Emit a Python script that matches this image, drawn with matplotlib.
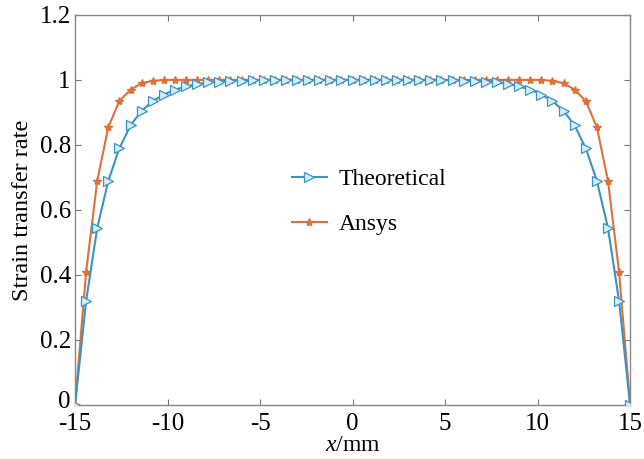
import matplotlib
matplotlib.use("Agg")
import matplotlib.pyplot as plt
import matplotlib.transforms as mtransforms
import numpy as np

plt.rcParams['font.family'] = ['Liberation Serif', 'DejaVu Serif']
plt.rcParams['axes.unicode_minus'] = False
plt.rcParams['mathtext.fontset'] = 'custom'
plt.rcParams['mathtext.it'] = 'Liberation Serif:italic'
plt.rcParams['mathtext.rm'] = 'Liberation Serif'

# x positions, mm (step 0.6)
x = np.round(np.arange(-15, 15.001, 0.6), 2)

# left half (x = -15 ... 0), mirrored for the right half
theo_half = [0.0, 0.32, 0.545, 0.69, 0.79, 0.86, 0.905, 0.935, 0.955, 0.97,
             0.98, 0.987, 0.992, 0.995, 0.997, 0.998, 0.999, 1.0, 1.0, 1.0,
             1.0, 1.0, 1.0, 1.0, 1.0, 1.0]
ansys_half = [0.0, 0.41, 0.69, 0.855, 0.935, 0.97, 0.99, 0.997, 1.0, 1.0,
              1.0, 1.0, 1.0, 1.0, 1.0, 1.0, 1.0, 1.0, 1.0, 1.0,
              1.0, 1.0, 1.0, 1.0, 1.0, 1.0]
theoretical = theo_half + theo_half[-2::-1]
ansys = ansys_half + ansys_half[-2::-1]

blue = '#3a93c3'
orange = '#e0703a'

fig = plt.figure(figsize=(6.44, 4.59), dpi=100)
ax = fig.add_axes([0.1165, 0.1176, 0.862, 0.85])

ax.plot(x, ansys, color=orange, lw=1.5, marker='*', ms=6,
        mfc=orange, mec=orange, label='Ansys', zorder=2)
ax.plot(x, theoretical, color=blue, lw=1.5, marker='>', ms=6.5,
        mfc='#d6ecf6', mec=blue, mew=0.9, label='Theoretical', zorder=3)

ax.set_xlim(-15, 15)
ax.set_ylim(0, 1.2)
ax.set_xticks([-15, -10, -5, 0, 5, 10, 15])
ax.set_yticks([0, 0.2, 0.4, 0.6, 0.8, 1, 1.2])
ax.set_yticklabels(['0', '0.2', '0.4', '0.6', '0.8', '1', '1.2'])
ax.tick_params(direction='in', top=True, right=True, length=4, width=0.8,
               labelsize=18, color='#777777', pad=6)
ax.tick_params(axis='y', pad=3)
for s in ax.spines.values():
    s.set_color('#888888')
    s.set_linewidth(1.0)

# nudge the "0" on y up a little so it doesn't sit on "-15"
lbl0 = ax.get_yticklabels()[0]
lbl0.set_transform(lbl0.get_transform() +
                   mtransforms.ScaledTranslation(0, 6 / 100, fig.dpi_scale_trans))

ax.set_xlabel('$x$/mm', fontsize=17, labelpad=0)
ax.set_ylabel('Strain transfer rate', fontsize=17.5, labelpad=5)

h, l = ax.get_legend_handles_labels()
ax.legend(h[::-1], l[::-1], loc='center', bbox_to_anchor=(0.53, 0.52),
          frameon=False, fontsize=17, handlelength=1.5, handletextpad=0.5,
          labelspacing=1.0)

fig.savefig('out.png', dpi=100)
